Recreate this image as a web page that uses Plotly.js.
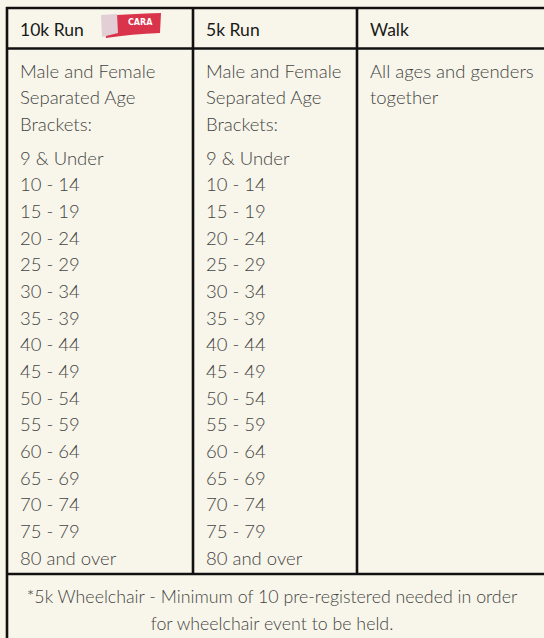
<!DOCTYPE html>
<html><head><meta charset="utf-8">
<script src="https://cdn.plot.ly/plotly-3.0.1.min.js"></script>
<style>html,body{margin:0;padding:0;background:#f8f6ea;}</style>
</head><body>
<div id="chart" style="width:544px;height:638px;"></div>
<script>
// ---- data ----
var headers = ['10k Run', '5k Run', 'Walk'];
var introRun = ['Male and Female', 'Separated Age', 'Brackets:'];
var introWalk = ['All ages and genders', 'together'];
var ageBrackets = ['9 & Under', '10 - 14', '15 - 19', '20 - 24', '25 - 29', '30 - 34', '35 - 39',
  '40 - 44', '45 - 49', '50 - 54', '55 - 59', '60 - 64', '65 - 69', '70 - 74', '75 - 79', '80 and over'];
var footnote = ['*5k Wheelchair - Minimum of 10 pre-registered needed in order',
  'for wheelchair event to be held.'];
var logoText = 'CARA';

// ---- layout constants ----
var W = 544, H = 638;
var colX = [7, 193, 357];        // column left borders
var textPad = 13;
var topY = 8, headBottom = 48.5, bodyBottom = 574;
var lineH = 26.67;
var introY0 = 73, bracketY0 = 160;
var ink = '#111';
var txt = '#444';
var fontFam = 'Lato, "Open Sans", sans-serif';

var xs = [], ys = [], ts = [];
function addCol(ci, lines, y0) {
  lines.forEach(function (s, i) { xs.push(colX[ci] + textPad); ys.push(y0 + i * lineH); ts.push(s); });
}
addCol(0, introRun, introY0);
addCol(1, introRun, introY0);
addCol(2, introWalk, introY0);
addCol(0, ageBrackets, bracketY0);
addCol(1, ageBrackets, bracketY0);

var traces = [{
  type: 'scatter', mode: 'text', x: xs, y: ys, text: ts,
  textposition: 'middle right', hoverinfo: 'skip',
  textfont: { family: fontFam, size: 18.5, color: txt, weight: 300 }
}, {
  type: 'scatter', mode: 'text',
  x: headers.map(function (h, i) { return colX[i] + textPad; }),
  y: headers.map(function () { return 32; }),
  text: headers, textposition: 'middle right', hoverinfo: 'skip',
  textfont: { family: fontFam, size: 17.5, color: '#1a1a1a' }
}, {
  type: 'scatter', mode: 'text',
  x: footnote.map(function () { return W / 2; }),
  y: footnote.map(function (f, i) { return 599 + i * lineH; }),
  text: footnote, textposition: 'middle center', hoverinfo: 'skip',
  textfont: { family: fontFam, size: 17.8, color: txt, weight: 300 }
}];

var lw = 2.6;
function hline(y) { return { type: 'line', xref: 'x', yref: 'y', x0: colX[0] - 1, x1: W + 5, y0: y, y1: y, line: { color: ink, width: lw } }; }
function vline(x, y1) { return { type: 'line', xref: 'x', yref: 'y', x0: x, x1: x, y0: topY - 1, y1: y1, line: { color: ink, width: lw } }; }

var shapes = [
  hline(topY), hline(headBottom), hline(bodyBottom),
  vline(colX[0], H + 5), vline(colX[1], bodyBottom), vline(colX[2], bodyBottom),
  // logo
  { type: 'path', xref: 'x', yref: 'y', path: 'M 103 16 Q 130 14 161 13 L 160 33 Q 132 34 106 38 Z',
    fillcolor: '#d9344c', line: { width: 0 } },
  { type: 'path', xref: 'x', yref: 'y', path: 'M 101 15 L 117 14 L 118 33 L 102 37 Z',
    fillcolor: '#e2cfd6', line: { width: 0 } }
];

var layout = {
  width: W, height: H, margin: { l: 0, r: 0, t: 0, b: 0 },
  paper_bgcolor: '#f8f6ea', plot_bgcolor: '#f8f6ea', showlegend: false,
  xaxis: { range: [0, W], visible: false, fixedrange: true },
  yaxis: { range: [H, 0], visible: false, fixedrange: true },
  shapes: shapes,
  annotations: [{ xref: 'x', yref: 'y', x: 140, y: 22, text: logoText, showarrow: false,
    font: { family: 'DejaVu Sans', size: 8, color: '#ffffff', weight: 'bold' } }]
};
Plotly.newPlot('chart', traces, layout, { displayModeBar: false, staticPlot: true });
</script>
</body></html>
